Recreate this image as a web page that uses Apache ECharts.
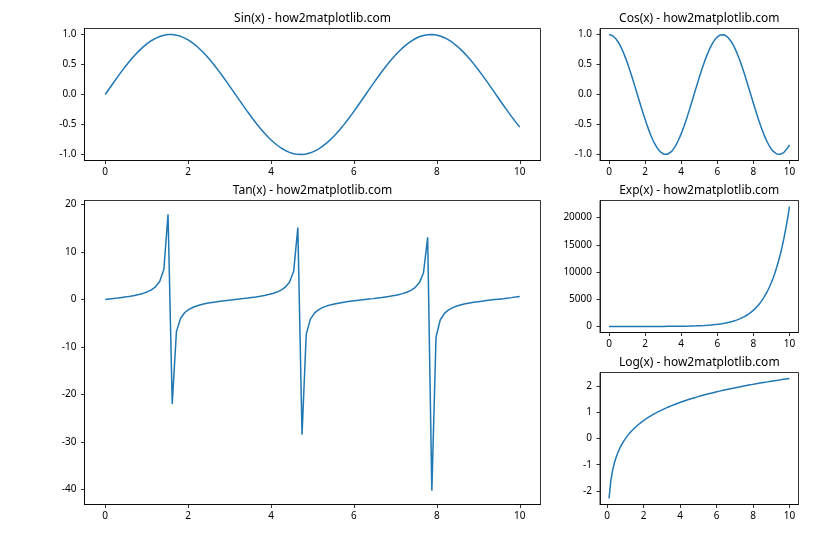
<!DOCTYPE html>
<html>
<head>
<meta charset="utf-8">
<script src="https://cdn.jsdelivr.net/npm/echarts@6/dist/echarts.min.js"></script>
<style>
html,body{margin:0;padding:0;background:#fff;}
#chart{width:840px;height:560px;}
</style>
</head>
<body>
<div id="chart"></div>
<script>
// ---- data ----
const xs = [0, 0.101, 0.202, 0.303, 0.404, 0.5051, 0.6061, 0.7071, 0.8081, 0.9091, 1.0101, 1.1111, 1.2121, 1.3131, 1.4141, 1.5152, 1.6162, 1.7172, 1.8182, 1.9192, 2.0202, 2.1212, 2.2222, 2.3232, 2.4242, 2.5253, 2.6263, 2.7273, 2.8283, 2.9293, 3.0303, 3.1313, 3.2323, 3.3333, 3.4343, 3.5354, 3.6364, 3.7374, 3.8384, 3.9394, 4.0404, 4.1414, 4.2424, 4.3434, 4.4444, 4.5455, 4.6465, 4.7475, 4.8485, 4.9495, 5.0505, 5.1515, 5.2525, 5.3535, 5.4545, 5.5556, 5.6566, 5.7576, 5.8586, 5.9596, 6.0606, 6.1616, 6.2626, 6.3636, 6.4646, 6.5657, 6.6667, 6.7677, 6.8687, 6.9697, 7.0707, 7.1717, 7.2727, 7.3737, 7.4747, 7.5758, 7.6768, 7.7778, 7.8788, 7.9798, 8.0808, 8.1818, 8.2828, 8.3838, 8.4848, 8.5859, 8.6869, 8.7879, 8.8889, 8.9899, 9.0909, 9.1919, 9.2929, 9.3939, 9.4949, 9.596, 9.697, 9.798, 9.899, 10];

const sinValues = [0, 0.1008, 0.2007, 0.2984, 0.3931, 0.4839, 0.5696, 0.6496, 0.7230, 0.7890, 0.8469, 0.8962, 0.9364, 0.9670, 0.9878, 0.9985, 0.9990, 0.9893, 0.9696, 0.9399, 0.9007, 0.8523, 0.7952, 0.7300, 0.6574, 0.5781, 0.4928, 0.4026, 0.3082, 0.2107, 0.1111, 0.0103, -0.0906, -0.1906, -0.2886, -0.3837, -0.4748, -0.5612, -0.6418, -0.7158, -0.7826, -0.8414, -0.8916, -0.9327, -0.9643, -0.9861, -0.9978, -0.9994, -0.9908, -0.9720, -0.9434, -0.9051, -0.8576, -0.8014, -0.7370, -0.6651, -0.5864, -0.5017, -0.4120, -0.3180, -0.2208, -0.1213, -0.0206, 0.0804, 0.1805, 0.2787, 0.3742, 0.4658, 0.5526, 0.6338, 0.7086, 0.7762, 0.8358, 0.8869, 0.9290, 0.9616, 0.9843, 0.9971, 0.9997, 0.9921, 0.9744, 0.9467, 0.9094, 0.8629, 0.8075, 0.7439, 0.6727, 0.5947, 0.5106, 0.4213, 0.3277, 0.2308, 0.1315, 0.0308, -0.0701, -0.1703, -0.2688, -0.3646, -0.4566, -0.5440];

const cosValues = [1, 0.9949, 0.9797, 0.9544, 0.9195, 0.8752, 0.8219, 0.7603, 0.6909, 0.6145, 0.5318, 0.4437, 0.3510, 0.2548, 0.1560, 0.0556, -0.0453, -0.1459, -0.2449, -0.3414, -0.4344, -0.5230, -0.6063, -0.6834, -0.7536, -0.8160, -0.8701, -0.9154, -0.9513, -0.9776, -0.9938, -0.9999, -0.9959, -0.9817, -0.9575, -0.9235, -0.8801, -0.8277, -0.7669, -0.6983, -0.6225, -0.5405, -0.4529, -0.3607, -0.2648, -0.1662, -0.0659, 0.0351, 0.1357, 0.2349, 0.3317, 0.4252, 0.5143, 0.5981, 0.6759, 0.7468, 0.8100, 0.8650, 0.9112, 0.9481, 0.9753, 0.9926, 0.9998, 0.9968, 0.9836, 0.9604, 0.9274, 0.8849, 0.8334, 0.7735, 0.7056, 0.6306, 0.5491, 0.4620, 0.3702, 0.2746, 0.1763, 0.0761, -0.0248, -0.1255, -0.2249, -0.3220, -0.4158, -0.5054, -0.5899, -0.6683, -0.7399, -0.8039, -0.8598, -0.9069, -0.9448, -0.9730, -0.9913, -0.9995, -0.9975, -0.9854, -0.9632, -0.9312, -0.8897, -0.8391];

const tanValues = [0, 0.10, 0.20, 0.31, 0.43, 0.55, 0.69, 0.85, 1.05, 1.28, 1.59, 2.02, 2.67, 3.79, 6.33, 17.95, -22.03, -6.78, -3.96, -2.75, -2.07, -1.63, -1.31, -1.07, -0.87, -0.71, -0.57, -0.44, -0.32, -0.22, -0.11, -0.01, 0.09, 0.19, 0.30, 0.42, 0.54, 0.68, 0.84, 1.03, 1.26, 1.56, 1.97, 2.59, 3.64, 5.93, 15.15, -28.50, -7.30, -4.14, -2.84, -2.13, -1.67, -1.34, -1.09, -0.89, -0.72, -0.58, -0.45, -0.34, -0.23, -0.12, -0.02, 0.08, 0.18, 0.29, 0.40, 0.53, 0.66, 0.82, 1.00, 1.23, 1.52, 1.92, 2.51, 3.50, 5.58, 13.10, -40.30, -7.91, -4.33, -2.94, -2.19, -1.71, -1.37, -1.11, -0.91, -0.74, -0.59, -0.46, -0.35, -0.24, -0.13, -0.03, 0.07, 0.17, 0.28, 0.39, 0.51, 0.65];

const expValues = [1, 1.106, 1.224, 1.354, 1.498, 1.657, 1.833, 2.028, 2.244, 2.482, 2.746, 3.038, 3.361, 3.718, 4.113, 4.551, 5.034, 5.569, 6.161, 6.816, 7.540, 8.342, 9.228, 10.21, 11.29, 12.49, 13.82, 15.29, 16.92, 18.72, 20.70, 22.90, 25.34, 28.03, 31.01, 34.31, 37.96, 41.99, 46.45, 51.39, 56.85, 62.89, 69.58, 76.97, 85.15, 94.20, 104.2, 115.3, 127.6, 141.1, 156.1, 172.7, 191.0, 211.3, 233.8, 258.7, 286.2, 316.6, 350.2, 387.5, 428.6, 474.2, 524.6, 580.3, 642.0, 710.3, 785.8, 869.3, 961.7, 1063.9, 1177.0, 1302.1, 1440.5, 1593.6, 1763.0, 1950.4, 2157.7, 2387.0, 2640.8, 2921.5, 3231.8, 3575.3, 3955.4, 4375.8, 4840.9, 5355.5, 5924.8, 6554.6, 7251.3, 8022.1, 8874.2, 9817.5, 10861, 12016, 13293, 14706, 16269, 17998, 19911, 22026];

const logValues = [null, -2.2925, -1.5994, -1.1939, -0.9062, -0.6831, -0.5008, -0.3466, -0.2131, -0.0953, 0.0101, 0.1054, 0.1924, 0.2724, 0.3465, 0.4155, 0.4801, 0.5407, 0.5978, 0.6519, 0.7032, 0.7520, 0.7985, 0.8430, 0.8855, 0.9263, 0.9656, 1.0033, 1.0397, 1.0748, 1.1087, 1.1415, 1.1732, 1.2040, 1.2338, 1.2628, 1.2910, 1.3184, 1.3451, 1.3710, 1.3963, 1.4210, 1.4451, 1.4687, 1.4917, 1.5141, 1.5361, 1.5576, 1.5787, 1.5993, 1.6195, 1.6393, 1.6587, 1.6778, 1.6964, 1.7148, 1.7328, 1.7505, 1.7679, 1.7850, 1.8018, 1.8183, 1.8346, 1.8506, 1.8663, 1.8819, 1.8971, 1.9122, 1.9270, 1.9416, 1.9560, 1.9701, 1.9841, 1.9979, 2.0115, 2.0250, 2.0382, 2.0513, 2.0642, 2.0769, 2.0895, 2.1019, 2.1142, 2.1263, 2.1383, 2.1501, 2.1618, 2.1734, 2.1848, 2.1961, 2.2073, 2.2183, 2.2293, 2.2401, 2.2508, 2.2613, 2.2718, 2.2822, 2.2924, 2.3026];

const xTicks = [0, 2, 4, 6, 8, 10];
const sinTicks = [-1.0, -0.5, 0.0, 0.5, 1.0];
const cosTicks = [-1.0, -0.5, 0.0, 0.5, 1.0];
const tanTicks = [-40, -30, -20, -10, 0, 10, 20];
const expTicks = [0, 5000, 10000, 15000, 20000];
const logTicks = [-2, -1, 0, 1, 2];

const titles = ['Sin(x) - how2matplotlib.com', 'Cos(x) - how2matplotlib.com', 'Tan(x) - how2matplotlib.com', 'Exp(x) - how2matplotlib.com', 'Log(x) - how2matplotlib.com'];

// ---- layout ----
const FONT = 'Noto Sans';
const LINE = '#1f77b4';
const panels = [
  {grid: {left: 84.5, top: 28.5, width: 456, height: 132}, ys: sinValues, yTicks: sinTicks, yMin: -1.1, yMax: 1.1, xMin: -0.5, xMax: 10.5, fmt: v => v.toFixed(1)},
  {grid: {left: 600, top: 28.5, width: 198.5, height: 132}, ys: cosValues, yTicks: cosTicks, yMin: -1.1, yMax: 1.1, xMin: -0.5, xMax: 10.5, fmt: v => v.toFixed(1)},
  {grid: {left: 84.5, top: 200.5, width: 456, height: 304}, ys: tanValues, yTicks: tanTicks, yMin: -43.21, yMax: 20.86, xMin: -0.5, xMax: 10.5, fmt: v => String(v)},
  {grid: {left: 600, top: 200.5, width: 198.5, height: 132}, ys: expValues, yTicks: expTicks, yMin: -1100.3, yMax: 23127.8, xMin: -0.5, xMax: 10.5, fmt: v => String(v)},
  {grid: {left: 600, top: 372.5, width: 198.5, height: 132}, ys: logValues, yTicks: logTicks, yMin: -2.522, yMax: 2.532, xMin: -0.394, xMax: 10.495, fmt: v => String(v)}
];

const lineCommon = {show: true, onZero: false, lineStyle: {color: '#000', width: 0.8}};
const tickCommon = {show: true, length: 3.5, lineStyle: {color: '#000', width: 0.8}};
const labelCommon = {fontFamily: FONT, fontSize: 10, color: '#000'};

const option = {
  animation: false,
  backgroundColor: '#fff',
  title: panels.map((p, i) => ({
    text: titles[i],
    left: p.grid.left + p.grid.width / 2,
    textAlign: 'center',
    top: p.grid.top - 16,
    padding: 0,
    textStyle: {fontFamily: FONT, fontSize: 12, fontWeight: 'normal', color: '#000'}
  })),
  grid: panels.map(p => Object.assign({show: true, borderColor: '#000', borderWidth: 0.8, backgroundColor: '#fff'}, p.grid)),
  xAxis: panels.map((p, i) => ({
    type: 'value', gridIndex: i, min: p.xMin, max: p.xMax,
    axisLine: lineCommon,
    axisTick: Object.assign({customValues: xTicks}, tickCommon),
    axisLabel: Object.assign({customValues: xTicks, formatter: v => String(v), margin: 7}, labelCommon),
    splitLine: {show: false}
  })),
  yAxis: panels.map((p, i) => ({
    type: 'value', gridIndex: i, min: p.yMin, max: p.yMax,
    axisLine: lineCommon,
    axisTick: Object.assign({customValues: p.yTicks}, tickCommon),
    axisLabel: Object.assign({customValues: p.yTicks, formatter: p.fmt, margin: 8}, labelCommon),
    splitLine: {show: false}
  })),
  series: panels.map((p, i) => ({
    type: 'line', xAxisIndex: i, yAxisIndex: i,
    showSymbol: false, symbol: 'none',
    lineStyle: {color: LINE, width: 1.5},
    data: xs.map((x, k) => [x, p.ys[k]]).filter(d => d[1] !== null)
  }))
};

const chart = echarts.init(document.getElementById('chart'), null, {renderer: 'canvas'});
chart.setOption(option);
</script>
</body>
</html>
